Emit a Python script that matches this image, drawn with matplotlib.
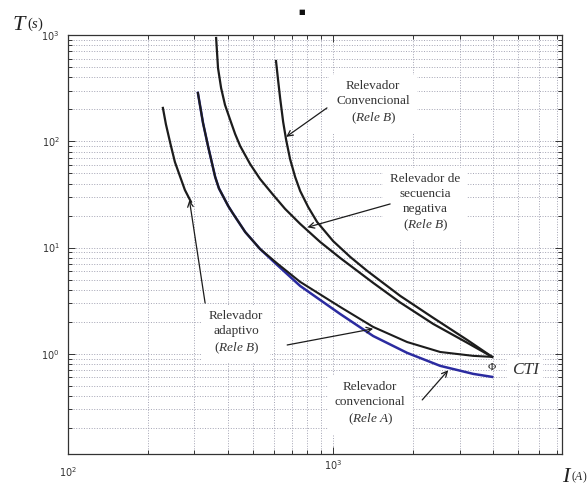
import matplotlib
matplotlib.use("Agg")
import matplotlib.pyplot as plt
from matplotlib.ticker import LogLocator, NullFormatter

plt.rcParams['mathtext.fontset'] = 'custom'
plt.rcParams['mathtext.rm'] = 'Liberation Serif'
plt.rcParams['mathtext.it'] = 'Liberation Serif:italic'

# datos (I en A, T en s)
# relevador adaptivo (Rele B), tramo izquierdo
I_adapt1 = [228, 234, 243, 253, 265, 276, 291]
T_adapt1 = [206, 145, 96.4, 63.9, 46.2, 34.8, 26.9]

# relevador convencional (Rele A) - azul
I_releA = [309, 323, 338, 359, 371, 385, 402, 419, 466, 530, 615, 751,
           1063, 1416, 1902, 2534, 3376, 3981]
T_releA = [285, 149, 88.4, 46.2, 36.0, 30.2, 24.6, 20.9, 14.0, 9.70, 6.86,
           4.35, 2.37, 1.47, 1.02, 0.770, 0.647, 0.606]

# relevador adaptivo (Rele B), tramo derecho (sobre la azul al inicio)
I_adapt2 = [309, 323, 338, 359, 371, 385, 402, 419, 466, 530, 615, 751,
            1063, 1416, 1902, 2534, 3376, 3981]
T_adapt2 = [285, 149, 88.4, 46.2, 36.0, 30.2, 24.6, 20.9, 14.0, 9.70, 7.09,
            4.75, 2.76, 1.79, 1.29, 1.04, 0.956, 0.935]

# relevador de secuencia negativa (Rele B)
I_negseq = [362, 368, 378, 391, 409, 427, 446, 486, 530, 594, 659, 751,
            893, 1063, 1416, 1790, 2385, 3204, 3981]
T_negseq = [937, 489, 317, 220, 159, 117, 90.3, 61.2, 44.2, 31.3, 23.1,
            16.7, 11.3, 7.98, 4.65, 3.04, 1.91, 1.27, 0.935]

# relevador convencional (Rele B)
I_convB = [609, 620, 631, 648, 665, 688, 719, 751, 805, 870, 1000, 1160,
           1344, 1790, 2385, 3204, 3981]
T_convB = [569, 377, 256, 152, 103, 68.1, 46.2, 34.1, 24.1, 17.4, 11.5,
           8.16, 6.03, 3.51, 2.18, 1.35, 0.935]

fig = plt.figure(figsize=(5.88, 4.86), dpi=100)
ax = fig.add_axes([68/588, 1-454/486, (562-68)/588, (454-35)/486])
ax.set_xscale('log')
ax.set_yscale('log')
ax.set_xlim(100, 7300)
ax.set_ylim(0.114, 1000)

negro = '#1c1c1c'
azul = '#2b2ba0'
ax.plot(I_releA, T_releA, color=azul, lw=1.8, zorder=3)
ax.plot(I_adapt2, T_adapt2, color=negro, lw=1.5, zorder=4)
ax.plot(I_adapt1, T_adapt1, color=negro, lw=1.6, zorder=4)
ax.plot(I_negseq, T_negseq, color=negro, lw=1.6, zorder=4)
ax.plot(I_convB, T_convB, color=negro, lw=1.6, zorder=4)

# ejes estilo matlab
ax.set_xticks([100, 1000])
ax.set_yticks([1, 10, 100, 1000])
ax.xaxis.set_minor_locator(LogLocator(base=10, subs=range(2, 10), numticks=20))
ax.yaxis.set_minor_locator(LogLocator(base=10, subs=range(2, 10), numticks=20))
ax.xaxis.set_minor_formatter(NullFormatter())
ax.yaxis.set_minor_formatter(NullFormatter())
ax.tick_params(which='both', direction='in', top=True, right=True,
               colors='#333333', labelsize=7, width=0.7)
ax.tick_params(which='major', length=5)
ax.tick_params(which='minor', length=3)
ax.tick_params(axis='y', which='major', pad=6)
xt = ax.xaxis.get_major_ticks()
xt[0].set_pad(8)
xt[1].set_pad(3)
ax.grid(True, which='both', ls=':', color='#a4a4b4', lw=0.7)
for s in ax.spines.values():
    s.set_color('#333333')
    s.set_linewidth(0.9)

fuente = 'Liberation Serif'
caja = dict(facecolor='white', edgecolor='none', pad=5)
flecha = dict(arrowstyle='->', color=negro, lw=0.9, shrinkA=0, shrinkB=0)

ax.text(1416, 229, 'Relevador\nConvencional\n($\\mathit{Rele\\ B}$)',
        ha='center', va='center', family=fuente, fontsize=9.5, color='#333333',
        linespacing=1.3, bbox=caja, zorder=5)
ax.annotate('', xy=(665, 110), xytext=(948, 206), arrowprops=flecha, zorder=6)

ax.text(2223, 26, 'Relevador de\nsecuencia\nnegativa\n($\\mathit{Rele\\ B}$)',
        ha='center', va='center', family=fuente, fontsize=9.5, color='#333333',
        linespacing=1.3, bbox=caja, zorder=5)
ax.annotate('', xy=(800, 15.5), xytext=(1641, 25.7), arrowprops=flecha, zorder=6)

ax.text(431, 1.57, 'Relevador\nadaptivo\n($\\mathit{Rele\\ B}$)',
        ha='center', va='center', family=fuente, fontsize=9.5, color='#333333',
        linespacing=1.3, bbox=caja, zorder=5)
ax.annotate('', xy=(287, 28), xytext=(329, 3.0), arrowprops=flecha, zorder=6)
ax.annotate('', xy=(1416, 1.72), xytext=(671, 1.21), arrowprops=flecha, zorder=6)

ax.text(1379, 0.338, 'Relevador\nconvencional\n($\\mathit{Rele\\ A}$)',
        ha='center', va='center', family=fuente, fontsize=9.5, color='#333333',
        linespacing=1.3, bbox=caja, zorder=5)
ax.annotate('', xy=(2717, 0.7), xytext=(2168, 0.368), arrowprops=flecha, zorder=6)

ax.text(5300, 0.706, 'CTI', ha='center', va='center', family=fuente,
        style='italic', fontsize=12.5, color='#333333',
        bbox=dict(facecolor='white', edgecolor='none', pad=3), zorder=5)
ax.text(3981, 0.75, 'Φ', ha='center', va='center', family=fuente,
        fontsize=8, color=negro, zorder=6)

# etiquetas de los ejes
fig.text(12/588, 1-30/486, '$T$', family=fuente, fontsize=16, color='#222222',
         ha='left', va='baseline')
fig.text(27/588, 1-28/486, '$(s)$', family=fuente, fontsize=10.5, color='#222222',
         ha='left', va='baseline')
fig.text(562/588, 1-482/486, '$I$', family=fuente, fontsize=16, color='#222222',
         ha='left', va='baseline')
fig.text(571/588, 1-480/486, '$(A)$', family=fuente, fontsize=8.5, color='#222222',
         ha='left', va='baseline')
fig.text(302/588, 1-12/486, '■', fontsize=5, color='#111111',
         ha='center', va='center')

fig.savefig('out.png', dpi=100)
